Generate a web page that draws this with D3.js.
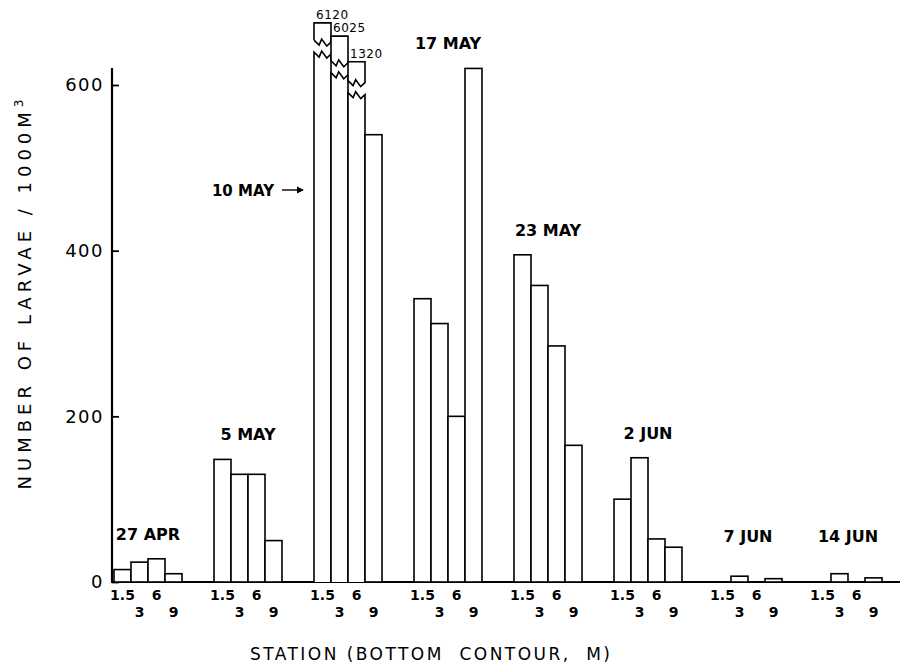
<!DOCTYPE html>
<html>
<head>
<meta charset="utf-8">
<script src="https://cdn.jsdelivr.net/npm/d3@7"></script>
<style>
body { margin: 0; background: #fff; }
svg text { font-family: "DejaVu Sans", sans-serif; fill: #000; }
</style>
</head>
<body>
<svg id="chart" width="906" height="669"></svg>
<script>
const dates = ["27 APR", "5 MAY", "10 MAY", "17 MAY", "23 MAY", "2 JUN", "7 JUN", "14 JUN"];
const stations = ["1.5", "3", "6", "9"];
const larvae = [
    [15, 24, 28, 10],
    [148, 130, 130, 50],
    [6120, 6025, 1320, 540],
    [342, 312, 200, 620],
    [395, 358, 285, 165],
    [100, 150, 52, 42],
    [0, 7, 0, 4],
    [0, 10, 0, 5]
];
const yTicks = [0, 200, 400, 600];
// bars over breakCap run off the scale: drawn up to brokenTop with a break at brokenAt
const breakCap = 700;
const brokenTop = [675, 659, 628];
const brokenAt = [647, 622, 598];

const width = 906;
const height = 669;
const svg = d3.select("#chart");

const y = d3.scaleLinear().domain([0, 600]).range([582, 85]);
const xGroup = d3.scaleBand().domain(dates).range([114, 882]).paddingInner(0.32);
const xStation = d3.scaleBand().domain(stations).range([0, xGroup.bandwidth()]);

// axes
svg.append("line")
    .attr("x1", 112).attr("x2", 900)
    .attr("y1", y(0)).attr("y2", y(0))
    .attr("stroke", "#000").attr("stroke-width", 2.2);
svg.append("line")
    .attr("x1", 112).attr("x2", 112)
    .attr("y1", y(0) + 1).attr("y2", 68)
    .attr("stroke", "#000").attr("stroke-width", 2.2);

const yAxis = svg.append("g")
    .attr("transform", "translate(112,0)")
    .call(d3.axisLeft(y).tickValues(yTicks).tickSize(-7).tickSizeOuter(0).tickPadding(8));
yAxis.select(".domain").remove();
yAxis.selectAll(".tick line").attr("stroke", "#000").attr("stroke-width", 1.8);
yAxis.selectAll(".tick text")
    .attr("font-family", "DejaVu Sans")
    .attr("font-size", 18)
    .attr("letter-spacing", 1.5);

// bars
function zig(x0, x1, yb) {
    const w = x1 - x0;
    return [[x0, yb], [x0 + w * 0.3, yb + 5], [x0 + w * 0.45, yb - 1], [x0 + w * 0.75, yb + 6], [x1, yb + 2]];
}

let brokenIndex = 0;
dates.forEach((d, gi) => {
    const gx = xGroup(d);
    const g = svg.append("g").attr("transform", `translate(${gx},0)`);
    stations.forEach((s, si) => {
        const v = larvae[gi][si];
        const x0 = xStation(s);
        const x1 = x0 + xStation.bandwidth();
        if (v > breakCap) {
            const top = brokenTop[brokenIndex];
            const mid = y(brokenAt[brokenIndex]);
            brokenIndex++;
            const low = zig(x0, x1, mid + 6);
            const high = zig(x0, x1, mid - 6);
            const body = [[x0, y(0)], ...low, [x1, y(0)]];
            const cap = [[x0, high[0][1]], [x0, y(top)], [x1, y(top)], ...high.slice().reverse()];
            g.append("path")
                .attr("d", d3.line()(body))
                .attr("fill", "#fff").attr("stroke", "#000").attr("stroke-width", 1.6);
            g.append("path")
                .attr("d", d3.line()(cap))
                .attr("fill", "#fff").attr("stroke", "#000").attr("stroke-width", 1.6);
            g.append("text")
                .attr("x", x0 + 2)
                .attr("y", y(top) - 4)
                .attr("font-size", 12)
                .attr("letter-spacing", 0.5)
                .text(d3.format("d")(v));
        } else if (v > 0) {
            g.append("rect")
                .attr("x", x0).attr("y", y(v))
                .attr("width", xStation.bandwidth())
                .attr("height", y(0) - y(v))
                .attr("fill", "#fff").attr("stroke", "#000").attr("stroke-width", 1.6);
        }
        // station labels, staggered on two rows
        g.append("text")
            .attr("x", x0 + xStation.bandwidth() / 2)
            .attr("y", si % 2 === 0 ? 600 : 617)
            .attr("text-anchor", "middle")
            .attr("font-size", 14)
            .attr("font-weight", "bold")
            .text(s);
    });

    // date label
    if (d === "10 MAY") {
        svg.append("text")
            .attr("x", gx - 40)
            .attr("y", 196)
            .attr("text-anchor", "end")
            .attr("font-size", 15)
            .attr("font-weight", "bold")
            .text(d);
        svg.append("line")
            .attr("x1", gx - 32).attr("x2", gx - 12)
            .attr("y1", 190).attr("y2", 190)
            .attr("stroke", "#000").attr("stroke-width", 1.4);
        svg.append("path")
            .attr("d", `M${gx - 10},190 L${gx - 17},186.5 L${gx - 17},193.5 Z`)
            .attr("fill", "#000");
    } else {
        const shown = d3.max(larvae[gi], v => v > breakCap ? 0 : v);
        svg.append("text")
            .attr("x", gx + xGroup.bandwidth() / 2)
            .attr("y", Math.min(y(shown) - 19, 542))
            .attr("text-anchor", "middle")
            .attr("font-size", 16)
            .attr("font-weight", "bold")
            .text(d);
    }
});

// axis titles
svg.append("text")
    .attr("x", 430)
    .attr("y", 660)
    .attr("text-anchor", "middle")
    .attr("font-size", 17)
    .attr("textLength", 360)
    .attr("lengthAdjust", "spacing")
    .style("white-space", "pre")
    .text("STATION (BOTTOM  CONTOUR,  M)");

const yTitle = svg.append("text")
    .attr("transform", "translate(31,292) rotate(-90)")
    .attr("text-anchor", "middle")
    .attr("font-size", 18)
    .attr("letter-spacing", 5);
yTitle.append("tspan").text("NUMBER OF LARVAE / 1000M");
yTitle.append("tspan").attr("dy", -8).attr("font-size", 12).text("3");
</script>
</body>
</html>
